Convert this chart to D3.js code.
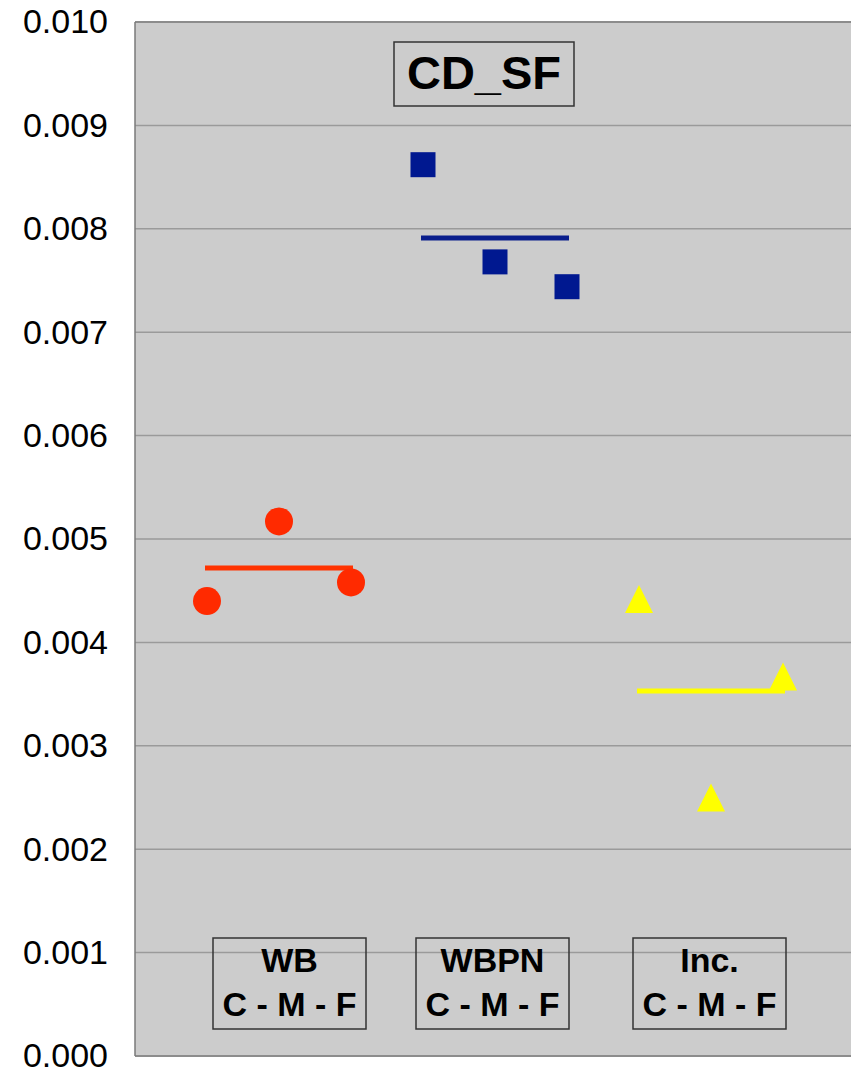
<!DOCTYPE html>
<html>
<head>
<meta charset="utf-8">
<script src="https://cdn.jsdelivr.net/npm/d3@7"></script>
<style>
  html, body { margin: 0; padding: 0; background: #ffffff; }
  svg { display: block; }
</style>
</head>
<body>
<svg id="chart" width="851" height="1073"></svg>
<script>
// ---- data ----
const groups = ["WB", "WBPN", "Inc."];
const positions = ["C", "M", "F"];
const wbValues   = [0.00440, 0.00517, 0.00458];
const wbpnValues = [0.00862, 0.00768, 0.00744];
const incValues  = [0.00442, 0.00250, 0.00367];
const groupMeans = [0.00472, 0.00791, 0.00353];
const yTicks = [0, 0.001, 0.002, 0.003, 0.004, 0.005, 0.006, 0.007, 0.008, 0.009, 0.010];
const title = "CD_SF";
const groupLabels = ["WB", "WBPN", "Inc."];
const subLabel = "C - M - F";

// ---- layout ----
const svg = d3.select("#chart");
const plotLeft = 135, plotTop = 22, plotRight = 855, plotBottom = 1056;
const FONT = "'Liberation Sans', Arial, sans-serif";

const x = d3.scaleLinear().domain([0, 10]).range([plotLeft, plotRight]);
const y = d3.scaleLinear().domain([0, 0.010]).range([plotBottom, plotTop]);

// plot background
svg.append("rect")
  .attr("x", plotLeft).attr("y", plotTop)
  .attr("width", plotRight - plotLeft).attr("height", plotBottom - plotTop)
  .attr("fill", "#cccccc");

// gridlines
svg.append("g").selectAll("line")
  .data(yTicks.filter(d => d > 0 && d < 0.010))
  .join("line")
  .attr("x1", plotLeft).attr("x2", plotRight)
  .attr("y1", d => y(d)).attr("y2", d => y(d))
  .attr("stroke", "#9a9a9a").attr("stroke-width", 1.5);

// borders
svg.append("line").attr("x1", plotLeft).attr("x2", plotRight).attr("y1", plotTop).attr("y2", plotTop)
  .attr("stroke", "#8c8c8c").attr("stroke-width", 2);
svg.append("line").attr("x1", plotLeft).attr("x2", plotRight).attr("y1", plotBottom).attr("y2", plotBottom)
  .attr("stroke", "#8c8c8c").attr("stroke-width", 2);
svg.append("line").attr("x1", plotLeft).attr("x2", plotLeft).attr("y1", plotTop).attr("y2", plotBottom)
  .attr("stroke", "#7a7a7a").attr("stroke-width", 1.5);

// y axis labels
const yAxis = d3.axisLeft(y).tickValues(yTicks).tickFormat(d3.format(".3f")).tickSize(0).tickPadding(27);
const yg = svg.append("g").attr("transform", `translate(${plotLeft},0)`).call(yAxis);
yg.select(".domain").remove();
yg.selectAll("text")
  .attr("font-family", FONT)
  .attr("font-size", 34)
  .attr("fill", "#000");

// series
const series = [
  { name: groups[0], values: wbValues,   color: "#ff2a00", lineColor: "#ff3300", shape: "circle" },
  { name: groups[1], values: wbpnValues, color: "#001890", lineColor: "#0a1e8c", shape: "square" },
  { name: groups[2], values: incValues,  color: "#ffff00", lineColor: "#ffff00", shape: "triangle" }
];

series.forEach((s, gi) => {
  const pts = s.values.map((v, i) => ({ xi: gi * 3 + i + 1, v, pos: positions[i] }));
  const g = svg.append("g");
  // mean line
  g.append("line")
    .attr("x1", x(pts[0].xi) - 2).attr("x2", x(pts[2].xi) + 2)
    .attr("y1", y(groupMeans[gi])).attr("y2", y(groupMeans[gi]))
    .attr("stroke", s.lineColor).attr("stroke-width", 5);
  // markers
  if (s.shape === "circle") {
    g.selectAll("circle").data(pts).join("circle")
      .attr("cx", d => x(d.xi)).attr("cy", d => y(d.v)).attr("r", 14)
      .attr("fill", s.color);
  } else if (s.shape === "square") {
    g.selectAll("rect").data(pts).join("rect")
      .attr("x", d => x(d.xi) - 12.5).attr("y", d => y(d.v) - 12.5)
      .attr("width", 25).attr("height", 25)
      .attr("fill", s.color);
  } else {
    g.selectAll("path").data(pts).join("path")
      .attr("d", d => {
        const cx = x(d.xi), cy = y(d.v);
        return `M${cx},${cy - 14}L${cx + 14},${cy + 14}L${cx - 14},${cy + 14}Z`;
      })
      .attr("fill", s.color);
  }
});

// title box
const tg = svg.append("g");
tg.append("rect").attr("x", 394).attr("y", 42).attr("width", 180).attr("height", 64)
  .attr("fill", "none").attr("stroke", "#333").attr("stroke-width", 1.5);
tg.append("text").attr("x", 484).attr("y", 89)
  .attr("text-anchor", "middle")
  .attr("font-family", FONT)
  .attr("font-weight", "bold").attr("font-size", 47)
  .attr("fill", "#000").text(title);

// group label boxes
const boxLefts = [213, 416, 633];
groupLabels.forEach((lab, i) => {
  const bx = boxLefts[i], bw = 153;
  const g = svg.append("g");
  g.append("rect").attr("x", bx).attr("y", 938).attr("width", bw).attr("height", 91)
    .attr("fill", "none").attr("stroke", "#333").attr("stroke-width", 1.5);
  g.append("text").attr("x", bx + bw / 2).attr("y", 972)
    .attr("text-anchor", "middle")
    .attr("font-family", FONT)
    .attr("font-weight", "bold").attr("font-size", 34)
    .attr("fill", "#000").text(lab);
  g.append("text").attr("x", bx + bw / 2).attr("y", 1016)
    .attr("text-anchor", "middle")
    .attr("font-family", FONT)
    .attr("font-weight", "bold").attr("font-size", 34)
    .attr("fill", "#000").text(subLabel);
});
</script>
</body>
</html>
